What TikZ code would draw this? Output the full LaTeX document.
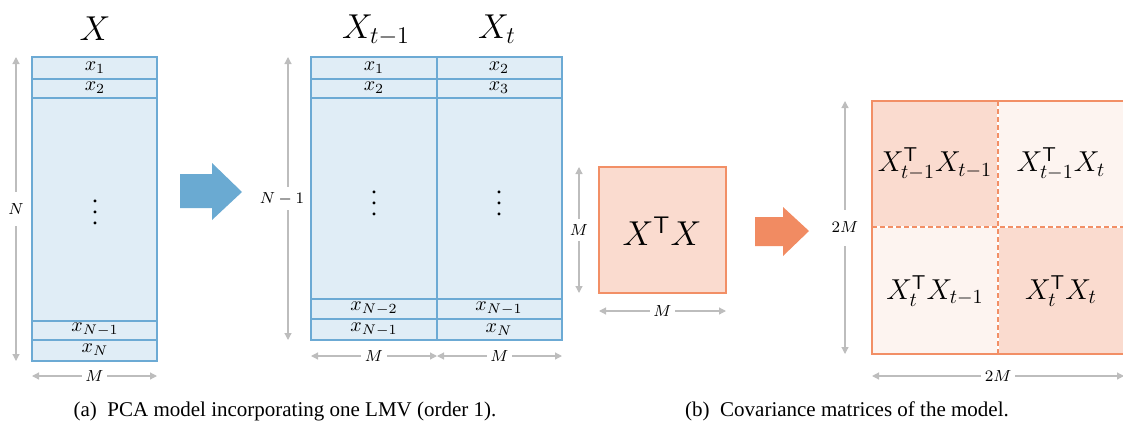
\documentclass[tikz,border=0pt]{standalone}
\usepackage{amsmath}
\usepackage[no-math]{fontspec}
\setmainfont{Liberation Serif}
\usetikzlibrary{arrows.meta}
\definecolor{blueFill}{HTML}{E0EDF6}
\definecolor{blueLine}{HTML}{6CAAD4}
\definecolor{blueArrow}{HTML}{6AAAD2}
\definecolor{orangeFill}{HTML}{FADBCF}
\definecolor{orangeLight}{HTML}{FDF4F0}
\definecolor{orangeLine}{HTML}{F28F66}
\definecolor{orangeArrow}{HTML}{F18B62}
\definecolor{dimGray}{HTML}{BDBDBD}
\newcommand{\rowdots}{\vbox{\baselineskip5.5pt\lineskiplimit0pt\hbox{.}\hbox{.}\hbox{.}}}

\begin{document}
\begin{tikzpicture}[x=0.5pt, y=-0.5pt,
    blueEdge/.style={draw=blueLine, line width=1pt},
    orangeEdge/.style={draw=orangeLine, line width=1pt},
    dimLine/.style={draw=dimGray, line width=0.6pt,
        {Triangle[length=3.5pt,width=3.5pt]}-{Triangle[length=3.5pt,width=3.5pt]}},
    dimLabel/.style={fill=white, inner xsep=1.75pt, inner ysep=1pt, font=\footnotesize},
    rowLabel/.style={inner sep=0pt},
    dotsLabel/.style={inner sep=0pt, font=\large},
    bigTitle/.style={anchor=base, inner sep=0pt},
    capText/.style={anchor=base, inner sep=0pt, font=\fontsize{10.5}{12}\selectfont}]
    \useasboundingbox (0,0) rectangle (1123,423);

    % (a) matrix X
    \fill[blueFill] (32,57) rectangle (157,361);
    \foreach \y in {79,98,321,340}
        \draw[blueEdge] (32,\y) -- (157,\y);
    \draw[blueEdge] (32,57) rectangle (157,361);
    \node[bigTitle, font=\fontsize{18}{20}\selectfont] (titleX) at (95,40) {$X$};
    \node[rowLabel] (lx1) at (95,68) {$x_1$};
    \node[rowLabel] (lx2) at (95,88) {$x_2$};
    \node[dotsLabel] (ldots) at (95,212) {\rowdots};
    \node[rowLabel] (lxN1) at (95,330) {$x_{N-1}$};
    \node[rowLabel] (lxN) at (95,350) {$x_N$};
    \coordinate (nTop) at (16,57);
    \coordinate (nBot) at (16,361);
    \draw[dimLine] (nTop) -- (nBot) node[midway, dimLabel, minimum height=17pt] (nLab) {$N$};
    \coordinate (mLeftA) at (32,376);
    \coordinate (mLeftB) at (157,376);
    \draw[dimLine] (mLeftA) -- (mLeftB) node[midway, dimLabel] (mLab) {$M$};

    % blue arrow
    \fill[blueArrow] (180,174) -- (212,174) -- (212,163) -- (242,192)
        -- (212,220) -- (212,208) -- (180,208) -- cycle;

    % (a) lagged matrix [X_{t-1} X_t]
    \fill[blueFill] (311,57) rectangle (562,340);
    \foreach \y in {79,98,299,319}
        \draw[blueEdge] (311,\y) -- (562,\y);
    \draw[blueEdge] (437,57) -- (437,340);
    \draw[blueEdge] (311,57) rectangle (562,340);
    \node[bigTitle, font=\LARGE] (titlePrev) at (376,38) {$X_{t-1}$};
    \node[bigTitle, font=\LARGE] (titleCur) at (497,38) {$X_t$};
    \node[rowLabel] (pa1) at (374,68) {$x_1$};
    \node[rowLabel] (pa2) at (374,88) {$x_2$};
    \node[dotsLabel] (padots) at (374,203) {\rowdots};
    \node[rowLabel] (paN2) at (374,309) {$x_{N-2}$};
    \node[rowLabel] (paN1) at (374,330) {$x_{N-1}$};
    \node[rowLabel] (cb2) at (499,68) {$x_2$};
    \node[rowLabel] (cb3) at (499,88) {$x_3$};
    \node[dotsLabel] (cbdots) at (499,203) {\rowdots};
    \node[rowLabel] (cbN1) at (499,309) {$x_{N-1}$};
    \node[rowLabel] (cbN) at (499,330) {$x_N$};
    \coordinate (lagTop) at (288,57);
    \coordinate (lagBot) at (288,340);
    \draw[dimLine] (lagTop) -- (lagBot);
    \node[dimLabel, minimum height=11.5pt] (lagLab) at (282,198.5) {$N-1$};
    \coordinate (mPrevA) at (311,356);
    \coordinate (mMid) at (437,356);
    \coordinate (mCurB) at (562,356);
    \draw[dimLine] (mPrevA) -- (mMid) node[midway, dimLabel] (mPrevLab) {$M$};
    \draw[dimLine] (mMid) -- (mCurB) node[midway, dimLabel] (mCurLab) {$M$};

    % (b) covariance X^T X
    \fill[orangeFill] (599,167) rectangle (726,293);
    \draw[orangeEdge] (599,167) rectangle (726,293);
    \node[font=\fontsize{18}{20}\selectfont] (cov) at (662,231) {$X^{\mathsf{T}}X$};
    \coordinate (covTop) at (579,167);
    \coordinate (covBot) at (579,293);
    \draw[dimLine] (covTop) -- (covBot) node[midway, dimLabel, minimum height=11pt] (covVLab) {$M$};
    \coordinate (covL) at (599,311);
    \coordinate (covR) at (726,311);
    \draw[dimLine] (covL) -- (covR) node[midway, dimLabel] (covHLab) {$M$};

    % orange arrow
    \fill[orangeArrow] (755,217) -- (783,217) -- (783,207) -- (809,231)
        -- (783,256) -- (783,246) -- (755,246) -- cycle;

    % (b) block covariance
    \fill[orangeFill] (872,101) rectangle (998,227);
    \fill[orangeLight] (998,101) rectangle (1124,227);
    \fill[orangeLight] (872,227) rectangle (998,354);
    \fill[orangeFill] (998,227) rectangle (1124,354);
    \draw[orangeEdge] (872,101) rectangle (1124,354);
    \draw[white, line width=0.8pt] (998,101) -- (998,354) (872,227) -- (1124,227);
    \draw[orangeLine, line width=0.8pt, dash pattern=on 2.5pt off 1.5pt]
        (998,101) -- (998,354) (872,227) -- (1124,227);
    \node[font=\Large] (bPP) at (935,164) {$X_{t-1}^{\mathsf{T}}X_{t-1}$};
    \node[font=\Large] (bPC) at (1061,164) {$X_{t-1}^{\mathsf{T}}X_t$};
    \node[font=\Large] (bCP) at (935,291) {$X_t^{\mathsf{T}}X_{t-1}$};
    \node[font=\Large] (bCC) at (1061,291) {$X_t^{\mathsf{T}}X_t$};
    \coordinate (blkTop) at (845,101);
    \coordinate (blkBot) at (845,354);
    \draw[dimLine] (blkTop) -- (blkBot) node[midway, dimLabel, minimum height=18pt] (blkVLab) {$2M$};
    \coordinate (blkL) at (872,376);
    \coordinate (blkR) at (1124,376);
    \draw[dimLine] (blkL) -- (blkR) node[midway, dimLabel] (blkHLab) {$2M$};

    % captions
    \node[capText] (capA) at (285,416) {(a)\enspace PCA model incorporating one LMV (order 1).};
    \node[capText] (capB) at (847,416) {(b)\enspace Covariance matrices of the model.};
\end{tikzpicture}
\end{document}
